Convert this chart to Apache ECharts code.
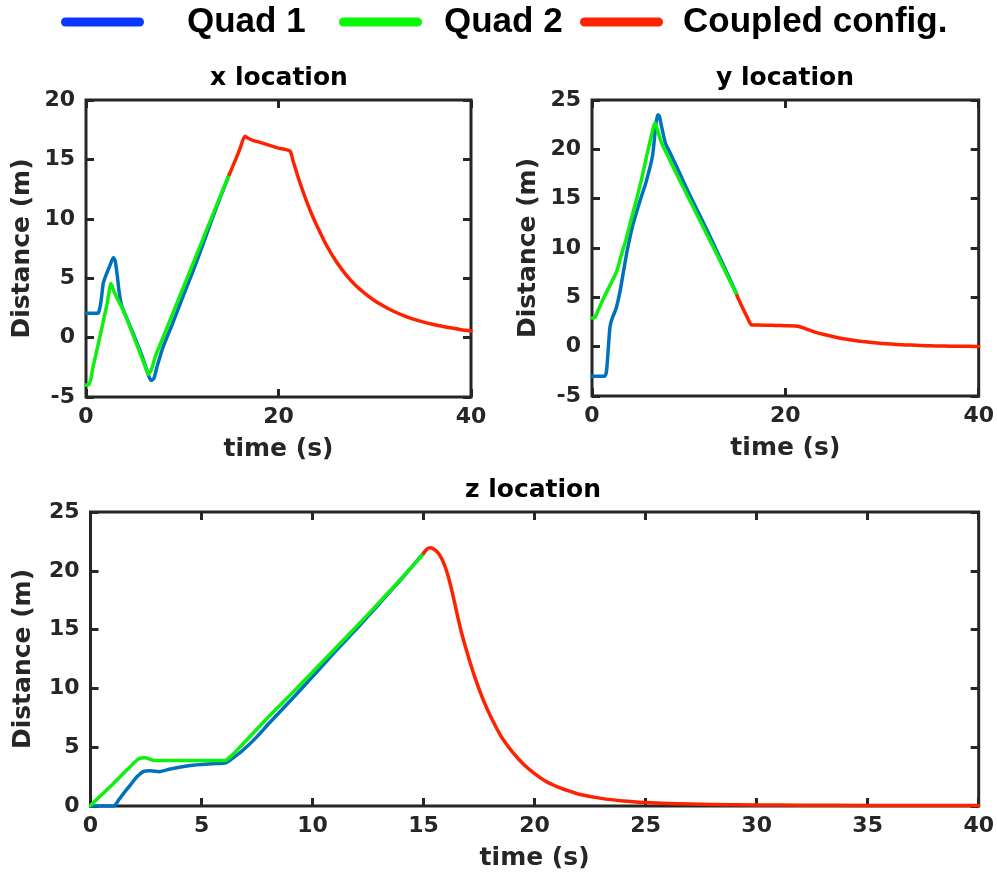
<!DOCTYPE html>
<html>
<head>
<meta charset="utf-8">
<script src="https://cdn.jsdelivr.net/npm/echarts@6/dist/echarts.min.js"></script>
<style>
  html, body { margin: 0; padding: 0; background: #fff; }
  #chart { width: 997px; height: 877px; }
</style>
</head>
<body>
<div id="chart"></div>
<script>
// Position of the two quadrotors and the coupled configuration: [time (s), distance (m)]
const seriesNames = ['Quad 1', 'Quad 2', 'Coupled config.'];
const panelTitles = ['x location', 'y location', 'z location'];

const xQuad1 = [[0,2.05],[1.0,2.05],[1.3,2.1],[1.55,3.0],[1.8,4.6],[2.1,5.3],[2.5,6.1],[2.85,6.75],[3.05,6.4],[3.25,5.2],[3.45,3.8],[3.7,2.7],[4.2,1.7],[5.0,0.15],[5.8,-1.5],[6.4,-2.95],[6.75,-3.6],[7.05,-3.45],[7.4,-2.4],[8.0,-0.8],[9.0,1.2],[10.0,3.3],[11.0,5.35],[12.0,7.5],[13.0,9.75],[14.0,11.9],[14.9,13.75]];
const xQuad2 = [[0,-4.0],[0.3,-3.95],[0.5,-3.5],[0.7,-2.6],[1.2,-0.8],[1.7,1.0],[2.2,2.9],[2.6,4.55],[2.9,3.9],[3.36,3.1],[3.9,2.25],[5.0,0.0],[6.0,-2.1],[6.48,-3.1],[6.8,-2.7],[7.2,-1.6],[8.0,0.0],[9.0,2.0],[10.0,4.0],[11.0,6.0],[12.0,8.0],[13.0,10.0],[14.0,12.0],[14.9,13.8]];
const xCoupled = [[14.9,13.75],[15.5,14.9],[16.0,15.9],[16.5,16.95],[16.8,16.8],[17.2,16.65],[18,16.45],[19,16.2],[20,15.95],[21.2,15.7],[21.5,14.9],[22,13.6],[22.5,12.4],[23,11.3],[23.5,10.3],[24,9.4],[25,7.75],[26,6.4],[27,5.3],[28,4.4],[29,3.7],[30,3.1],[31,2.62],[32,2.2],[33,1.86],[34,1.56],[35,1.32],[36,1.12],[37,0.95],[38,0.8],[39,0.66],[40,0.55]];

const yQuad1 = [[0,-3.0],[1.3,-3.0],[1.5,-2.5],[1.7,0.0],[1.86,2.0],[2.1,2.9],[2.5,3.9],[2.9,5.6],[3.2,7.3],[3.65,9.8],[4.27,12.5],[5.0,14.9],[5.6,16.7],[6.27,19.4],[6.6,22.5],[6.8,23.5],[6.95,23.4],[7.2,22.3],[7.6,20.6],[8.0,19.8],[8.75,18.25],[10,15.6],[11,13.6],[12,11.6],[13,9.5],[14,7.4],[15,5.25]];
const yQuad2 = [[0,2.9],[0.3,2.95],[0.6,3.6],[1.2,4.9],[1.8,6.1],[2.55,7.6],[3.0,9.2],[3.5,10.8],[4.0,12.7],[4.6,14.9],[5.2,17.3],[5.65,19.3],[6.1,21.2],[6.5,22.7],[6.7,22.2],[7.0,21.2],[7.3,20.4],[8,19.0],[9,17.0],[10,15.05],[11,13.1],[12,11.15],[13,9.2],[14,7.2],[15,5.2]];
const yCoupled = [[15,5.15],[15.5,4.1],[16,3.1],[16.5,2.2],[17,2.2],[18,2.18],[19,2.15],[20,2.12],[21.3,2.08],[22,1.85],[23,1.5],[24,1.23],[25,1.0],[26,0.8],[27,0.65],[28,0.52],[29,0.42],[30,0.33],[31,0.26],[32,0.2],[33,0.16],[34,0.12],[35,0.09],[36,0.07],[37,0.05],[38,0.04],[39,0.03],[40,0.02]];

const zQuad1 = [[0,0],[1.04,0],[1.3,0.6],[1.5,1.1],[1.8,1.8],[2.1,2.5],[2.4,2.95],[2.7,3.0],[3.1,2.92],[3.6,3.15],[4.5,3.45],[5.5,3.6],[6.1,3.68],[6.5,4.2],[6.9,4.8],[7.5,5.9],[8,6.95],[9,8.95],[10,11.0],[11,13.1],[12,15.1],[13,17.2],[14,19.3],[15,21.5]];
const zQuad2 = [[0,0.05],[0.5,0.95],[1.0,1.85],[1.5,2.8],[2.0,3.75],[2.2,4.05],[2.45,4.1],[2.85,3.88],[3.5,3.86],[4.5,3.86],[5.5,3.86],[6.05,3.86],[6.3,4.2],[6.6,4.75],[7,5.55],[8,7.55],[9,9.45],[10,11.4],[11,13.35],[12,15.3],[13,17.3],[14,19.35],[15,21.45]];
const zCoupled = [[15,21.5],[15.15,21.85],[15.3,21.97],[15.5,21.8],[15.7,21.4],[15.9,20.7],[16.1,19.6],[16.3,18.1],[16.5,16.4],[16.7,14.8],[17,12.8],[17.3,11.0],[17.65,9.2],[18,7.7],[18.5,5.9],[19,4.6],[19.5,3.55],[20,2.75],[20.5,2.1],[21,1.65],[21.5,1.3],[22,1.0],[23,0.65],[24,0.43],[25,0.3],[26,0.22],[27,0.17],[28,0.13],[30,0.09],[32,0.07],[35,0.05],[40,0.04]];

// Axis ranges: [min, max, interval]
const timeAxes = [[0, 40, 20], [0, 40, 20], [0, 40, 5]];
const distAxes = [[-5, 20, 5], [-5, 25, 5], [0, 25, 5]];

const lineColors = ['#0072bd', '#0ef00e', '#ff2200'];
const legendColors = ['#0a36ff', '#08f808', '#ff2200'];

const FONT = "'DejaVu Sans', sans-serif";
const INK = '#262626';
const grids = [
  { left: 86, top: 100, width: 385, height: 297 },
  { left: 592, top: 100, width: 387, height: 296 },
  { left: 86, top: 512, width: 893, height: 294 }
];
const titlePos = [[279, 63], [785, 63], [533, 475]];
const panelData = [[xQuad1, xQuad2, xCoupled], [yQuad1, yQuad2, yCoupled], [zQuad1, zQuad2, zCoupled]];

const xAxes = [], yAxes = [], series = [];
grids.forEach(function (g, i) {
  const t = timeAxes[i], d = distAxes[i];
  const tick = { show: true, inside: true, length: 8, lineStyle: { color: INK, width: 3 } };
  const line = { show: false, onZero: false };
  xAxes.push({
    type: 'value', gridIndex: i, position: 'bottom', min: t[0], max: t[1], interval: t[2],
    axisLine: line, axisTick: tick, splitLine: { show: false },
    axisLabel: { margin: 9, color: INK, fontFamily: FONT, fontWeight: 'bold', fontSize: 22 },
    name: 'time (s)', nameLocation: 'middle', nameGap: 37,
    nameTextStyle: { color: INK, fontFamily: FONT, fontWeight: 'bold', fontSize: 25, lineHeight: 30 }
  });
  xAxes.push({
    type: 'value', gridIndex: i, position: 'top', min: t[0], max: t[1], interval: t[2],
    axisLine: line, axisTick: tick, splitLine: { show: false }, axisLabel: { show: false }
  });
  yAxes.push({
    type: 'value', gridIndex: i, position: 'left', min: d[0], max: d[1], interval: d[2],
    axisLine: line, axisTick: tick, splitLine: { show: false },
    axisLabel: { margin: 11, color: INK, fontFamily: FONT, fontWeight: 'bold', fontSize: 22 },
    name: 'Distance (m)', nameLocation: 'middle', nameGap: 49,
    nameTextStyle: { color: INK, fontFamily: FONT, fontWeight: 'bold', fontSize: 25, lineHeight: 30 }
  });
  yAxes.push({
    type: 'value', gridIndex: i, position: 'right', min: d[0], max: d[1], interval: d[2],
    axisLine: line, axisTick: tick, splitLine: { show: false }, axisLabel: { show: false }
  });
  panelData[i].forEach(function (data, k) {
    series.push({
      type: 'line', name: seriesNames[k], data: data,
      xAxisIndex: 2 * i, yAxisIndex: 2 * i,
      showSymbol: false, symbol: 'none', clip: false, z: 3 + k, smooth: 0.2,
      lineStyle: { color: lineColors[k], width: 3.5, cap: 'round', join: 'round' },
      itemStyle: { color: lineColors[k] }
    });
  });
});

// Legend entries: swatch start x and text offset from swatch
const legendLeft = [61, 339, 580];
const legendTextPad = [38, 17, 15];
const capsule = 'path://M4.5,0H78.5A4.5,4.5,0,0,1,78.5,9H4.5A4.5,4.5,0,0,1,4.5,0Z';
const legends = seriesNames.map(function (name, k) {
  return {
    left: legendLeft[k], top: 2, padding: 0, orient: 'horizontal',
    itemWidth: 83, itemHeight: 9, icon: capsule, selectedMode: false,
    data: [{ name: name, itemStyle: { color: legendColors[k] } }],
    textStyle: { color: '#000', fontFamily: "'Liberation Sans', Arial, sans-serif", fontWeight: 'bold',
      fontSize: 35, lineHeight: 40, padding: [0, 0, 0, legendTextPad[k]] }
  };
});

const titles = panelTitles.map(function (txt, i) {
  return {
    text: txt, left: titlePos[i][0], top: titlePos[i][1], textAlign: 'center', padding: 0,
    textStyle: { color: '#000', fontFamily: FONT, fontWeight: 'bold', fontSize: 25, lineHeight: 30 }
  };
});

const chart = echarts.init(document.getElementById('chart'), null, { renderer: 'canvas' });
chart.setOption({
  animation: false,
  backgroundColor: '#fff',
  title: titles,
  legend: legends,
  grid: grids.map(function (g) {
    return Object.assign({ show: true, borderWidth: 3, borderColor: INK, backgroundColor: 'transparent', containLabel: false }, g);
  }),
  xAxis: xAxes,
  yAxis: yAxes,
  series: series
});
</script>
</body>
</html>
